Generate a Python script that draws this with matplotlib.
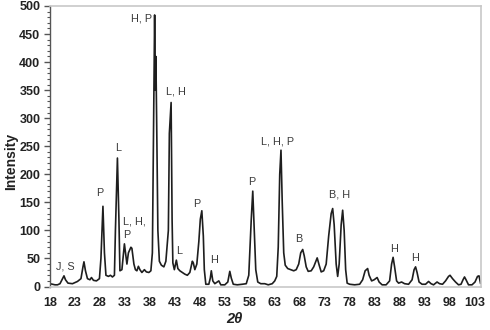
import matplotlib
matplotlib.use("Agg")
import matplotlib.pyplot as plt
from matplotlib.ticker import MultipleLocator

two_theta = [18.0, 18.5, 19.0, 19.5, 20.0, 20.5, 20.8, 21.1, 21.6, 22.5, 23.5, 24.2, 24.6, 24.8,
             25.1, 25.5, 26.0, 26.3, 26.7, 27.3, 27.9, 28.2, 28.6, 28.9, 29.2, 29.7, 30.1, 30.5,
             30.9, 31.1, 31.5, 31.8, 32.0, 32.4, 32.9, 33.2, 33.4, 33.7, 34.2, 34.4, 34.8, 35.1,
             35.4, 35.7, 36.0, 36.4, 36.9, 37.3, 37.8, 38.2, 38.5, 38.75, 38.95, 39.1, 39.2, 39.35,
             39.6, 39.9, 40.3, 40.8, 41.2, 41.7, 41.9, 42.25, 42.45, 42.6, 42.9, 43.3, 43.6, 44.0,
             44.5, 45.0, 45.5, 46.0, 46.5, 46.7, 47.0, 47.4, 47.8, 48.1, 48.4, 48.7, 48.9, 49.2,
             49.8, 50.1, 50.3, 50.6, 51.0, 51.5, 51.8, 52.2, 53.0, 53.6, 54.0, 54.3, 54.7, 55.5,
             56.5, 57.3, 57.8, 58.3, 58.6, 58.9, 59.2, 59.6, 60.2, 61.0, 61.7, 62.5, 63.0, 63.4,
             63.7, 64.0, 64.25, 64.5, 64.8, 65.1, 65.6, 66.2, 66.8, 67.3, 67.8, 68.2, 68.6, 68.9,
             69.3, 69.7, 70.3, 70.8, 71.5, 71.9, 72.3, 72.8, 73.3, 73.8, 74.3, 74.6, 74.9, 75.3,
             75.6, 75.9, 76.3, 76.6, 76.9, 77.2, 77.5, 78.0, 79.0, 80.0, 80.6, 81.1, 81.6, 81.9,
             82.4, 82.9, 83.5, 83.9, 84.5, 85.3, 86.0, 86.4, 86.7, 87.0, 87.4, 87.8, 88.4, 89.0,
             89.8, 90.5, 90.9, 91.2, 91.5, 91.9, 92.5, 93.2, 93.8, 94.3, 94.8, 95.5, 96.0, 96.6,
             97.2, 97.8, 98.1, 98.6, 99.2, 99.8, 100.3, 100.7, 101.0, 101.3, 101.8, 102.5, 103.1,
             103.6, 103.9, 104.2]
intensity = [5, 4, 3, 3, 5, 14, 19, 12, 6, 5, 9, 14, 35, 44,
             28, 14, 12, 16, 11, 10, 14, 50, 143, 60, 20, 18, 20, 17,
             20, 100, 229, 120, 28, 30, 76, 55, 40, 60, 70, 68, 40, 30,
             28, 36, 30, 25, 30, 26, 25, 28, 60, 300, 484, 350, 410, 300,
             100, 45, 38, 35, 45, 100, 273, 328, 118, 42, 30, 47, 32, 28,
             25, 22, 20, 25, 45, 42, 30, 40, 80, 120, 135, 90, 30, 4,
             4, 15, 28, 10, 5, 8, 10, 3, 3, 8, 27, 15, 4, 3,
             4, 5, 20, 120, 170, 100, 30, 8, 5, 5, 3, 5, 10, 18,
             70, 200, 243, 150, 60, 38, 32, 30, 28, 30, 40, 60, 66, 55,
             35, 27, 28, 35, 51, 38, 26, 28, 40, 90, 130, 139, 110, 40,
             18, 40, 110, 136, 100, 30, 6, 4, 3, 4, 12, 28, 32, 20,
             10, 12, 16, 8, 3, 3, 10, 40, 52, 35, 10, 6, 8, 5,
             4, 12, 30, 35, 25, 8, 4, 4, 9, 5, 3, 8, 5, 4,
             10, 18, 20, 14, 8, 3, 4, 12, 17, 12, 3, 3, 8,
             18, 19, 6]

x_ticks = [18, 23, 28, 33, 38, 43, 48, 53, 58, 63, 68, 73, 78, 83, 88, 93, 98, 103]

labels = ["J, S", "P", "L", "L, H,\nP", "H, P", "L, H", "L", "P", "H", "P",
          "L, H, P", "B", "B, H", "H", "H"]
label_x = [21.0, 28.0, 31.6, 32.7, 36.3, 43.2, 43.9, 47.3, 50.9, 58.3,
           63.6, 67.8, 75.9, 86.8, 91.1]
label_y = [36, 167, 247, 104, 478, 347, 64, 147, 47, 187,
           258, 84, 164, 66, 51]

plt.rcParams['font.family'] = ['Liberation Sans', 'DejaVu Sans']

fig = plt.figure(figsize=(4.9, 3.3), dpi=100)
ax = fig.add_axes([50/490, (330-286.5)/330, (481-50)/490, (286.5-6)/330])

ax.plot(two_theta, intensity, color='#1e1e1e', lw=1.2)

ax.set_xlim(18, 104.3)
ax.set_ylim(0, 500)
ax.set_xticks(x_ticks)
ax.yaxis.set_major_locator(MultipleLocator(50))
ax.yaxis.set_minor_locator(MultipleLocator(10))

ax.tick_params(axis='x', length=0, pad=7.5, labelsize=9, labelcolor='#222222')
ax.tick_params(axis='y', which='major', length=4, width=1, color='#555555', pad=3,
               labelsize=9, labelcolor='#222222', direction='out')
ax.tick_params(axis='y', which='minor', length=2.5, width=0.8, color='#555555', direction='out')
for lab in ax.get_xticklabels() + ax.get_yticklabels():
    lab.set_fontweight('bold')

for s in ['top', 'right', 'bottom']:
    ax.spines[s].set_color('#c8c8c8')
    ax.spines[s].set_linewidth(1.2)
ax.spines['left'].set_color('#555555')
ax.spines['left'].set_linewidth(1.0)

for t, xv, yv in zip(labels, label_x, label_y):
    ha = 'left' if '\n' in t else 'center'
    ax.text(xv, yv, t, ha=ha, va='center', fontsize=7.8, color='#3a3a3a',
            linespacing=1.4)

ax.set_ylabel('Intensity', fontsize=10, fontweight='bold', color='#222222')
ax.yaxis.set_label_coords(-0.074, 0.447)
ax.set_xlabel('2θ', fontsize=10.5, fontweight='bold', fontstyle='italic',
              color='#222222')
ax.xaxis.set_label_coords(0.4286, -0.092)

fig.savefig('out.png', dpi=100)
